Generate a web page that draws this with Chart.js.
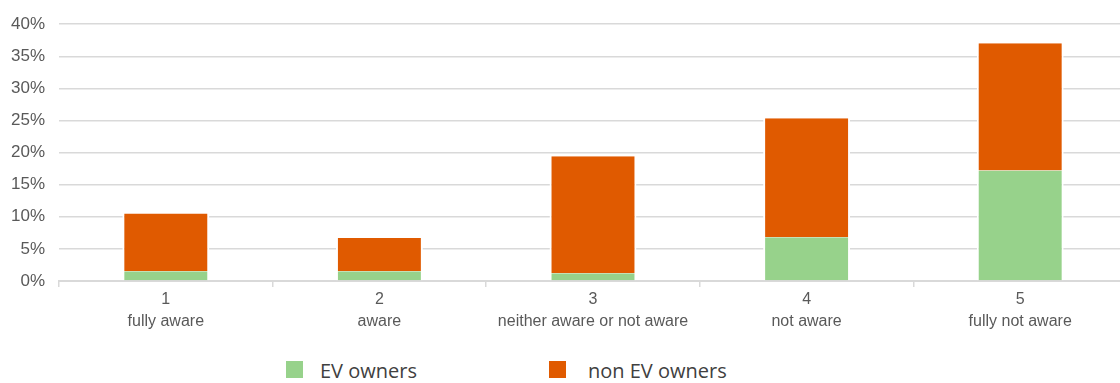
<!DOCTYPE html>
<html>
<head>
<meta charset="utf-8">
<script src="https://cdn.jsdelivr.net/npm/chart.js@4"></script>
<style>
  html, body { margin: 0; padding: 0; background: #fff; overflow: hidden; width: 1120px; height: 383px; }
  #wrap { position: relative; width: 1130px; height: 335px; }
  .legend { position: absolute; top: 360px; font-family: "Open Sans", sans-serif; font-size: 20px; color: #404040; }
  .legend span.box { position: absolute; top: 1px; width: 17px; height: 17px; }
  .legend span.txt { position: absolute; top: -3px; white-space: nowrap; }
</style>
</head>
<body>

<div id="wrap"><canvas id="chart-canvas" width="1130" height="335"></canvas></div>
<div class="legend" id="legend"></div>

<script>
//////////////////////////////////////////////////
/////       Data                    //////////////
//////////////////////////////////////////////////

var levels = ["1", "2", "3", "4", "5"];
var levelNames = ["fully aware", "aware", "neither aware or not aware", "not aware", "fully not aware"];
var evOwners = [1.5, 1.5, 1.2, 6.8, 17.2];
var nonEvOwners = [9.0, 5.2, 18.25, 18.55, 19.85];
var yTicks = [0, 5, 10, 15, 20, 25, 30, 35, 40];

var green = "#97d28b";
var orange = "#e05a00";
var gridGrey = "#d9d9d9";
var textGrey = "#595959";

//////////////////////////////////////////////////
/////       Chart                   //////////////
//////////////////////////////////////////////////

var ctx = document.getElementById('chart-canvas').getContext('2d');
var myChart = new Chart(ctx, {
    type: 'bar',
    data: {
        labels: levels.map(function (l, i) { return [l, levelNames[i]]; }),
        datasets: [
            {
                label: "EV owners",
                data: evOwners,
                backgroundColor: green,
                borderColor: "#ffffff",
                borderWidth: { left: 2, right: 2, top: 0, bottom: 0 },
                borderSkipped: false,
                categoryPercentage: 1,
                barPercentage: 0.407
            },
            {
                label: "non EV owners",
                data: nonEvOwners,
                backgroundColor: orange,
                borderColor: "#ffffff",
                borderWidth: { left: 2, right: 2, top: 0, bottom: 0 },
                borderSkipped: false,
                categoryPercentage: 1,
                barPercentage: 0.407
            }
        ]
    },
    options: {
        responsive: false,
        animation: false,
        layout: { padding: { top: 10, right: 3, left: 0, bottom: 0 } },
        plugins: {
            legend: { display: false },
            tooltip: { enabled: false }
        },
        scales: {
            x: {
                stacked: true,
                offset: true,
                grid: {
                    offset: true,
                    drawOnChartArea: false,
                    color: gridGrey,
                    lineWidth: 1.5,
                    tickLength: 6
                },
                border: { display: true, color: gridGrey, width: 2 },
                ticks: {
                    color: textGrey,
                    padding: 1,
                    maxRotation: 0,
                    font: { family: "'Liberation Sans', Arial, sans-serif", size: 16, lineHeight: 1.42 }
                },
                afterFit: function (scale) { scale.height = 54; }
            },
            y: {
                stacked: true,
                min: 0,
                max: 40,
                afterBuildTicks: function (scale) {
                    scale.ticks = yTicks.map(function (v) { return { value: v }; });
                },
                grid: {
                    color: gridGrey,
                    lineWidth: 1.5,
                    drawTicks: false
                },
                border: { display: false },
                ticks: {
                    color: textGrey,
                    padding: 14,
                    font: { family: "'Liberation Sans', Arial, sans-serif", size: 17 },
                    callback: function (v) { return v + '%'; }
                },
                afterFit: function (scale) { scale.width = 59; }
            }
        }
    }
});

//////////////////////////////////////////////////
/////       Legend                  //////////////
//////////////////////////////////////////////////

var legendSpots = [[286, 320], [549, 588]];
var legendHtml = '';
myChart.data.datasets.forEach(function (ds, i) {
    legendHtml += '<span class="box" style="left:' + legendSpots[i][0] + 'px;background:' + ds.backgroundColor + '"></span>' +
        '<span class="txt" style="left:' + legendSpots[i][1] + 'px">' + ds.label + '</span>';
});
document.getElementById('legend').innerHTML = legendHtml;
</script>
</body>
</html>
